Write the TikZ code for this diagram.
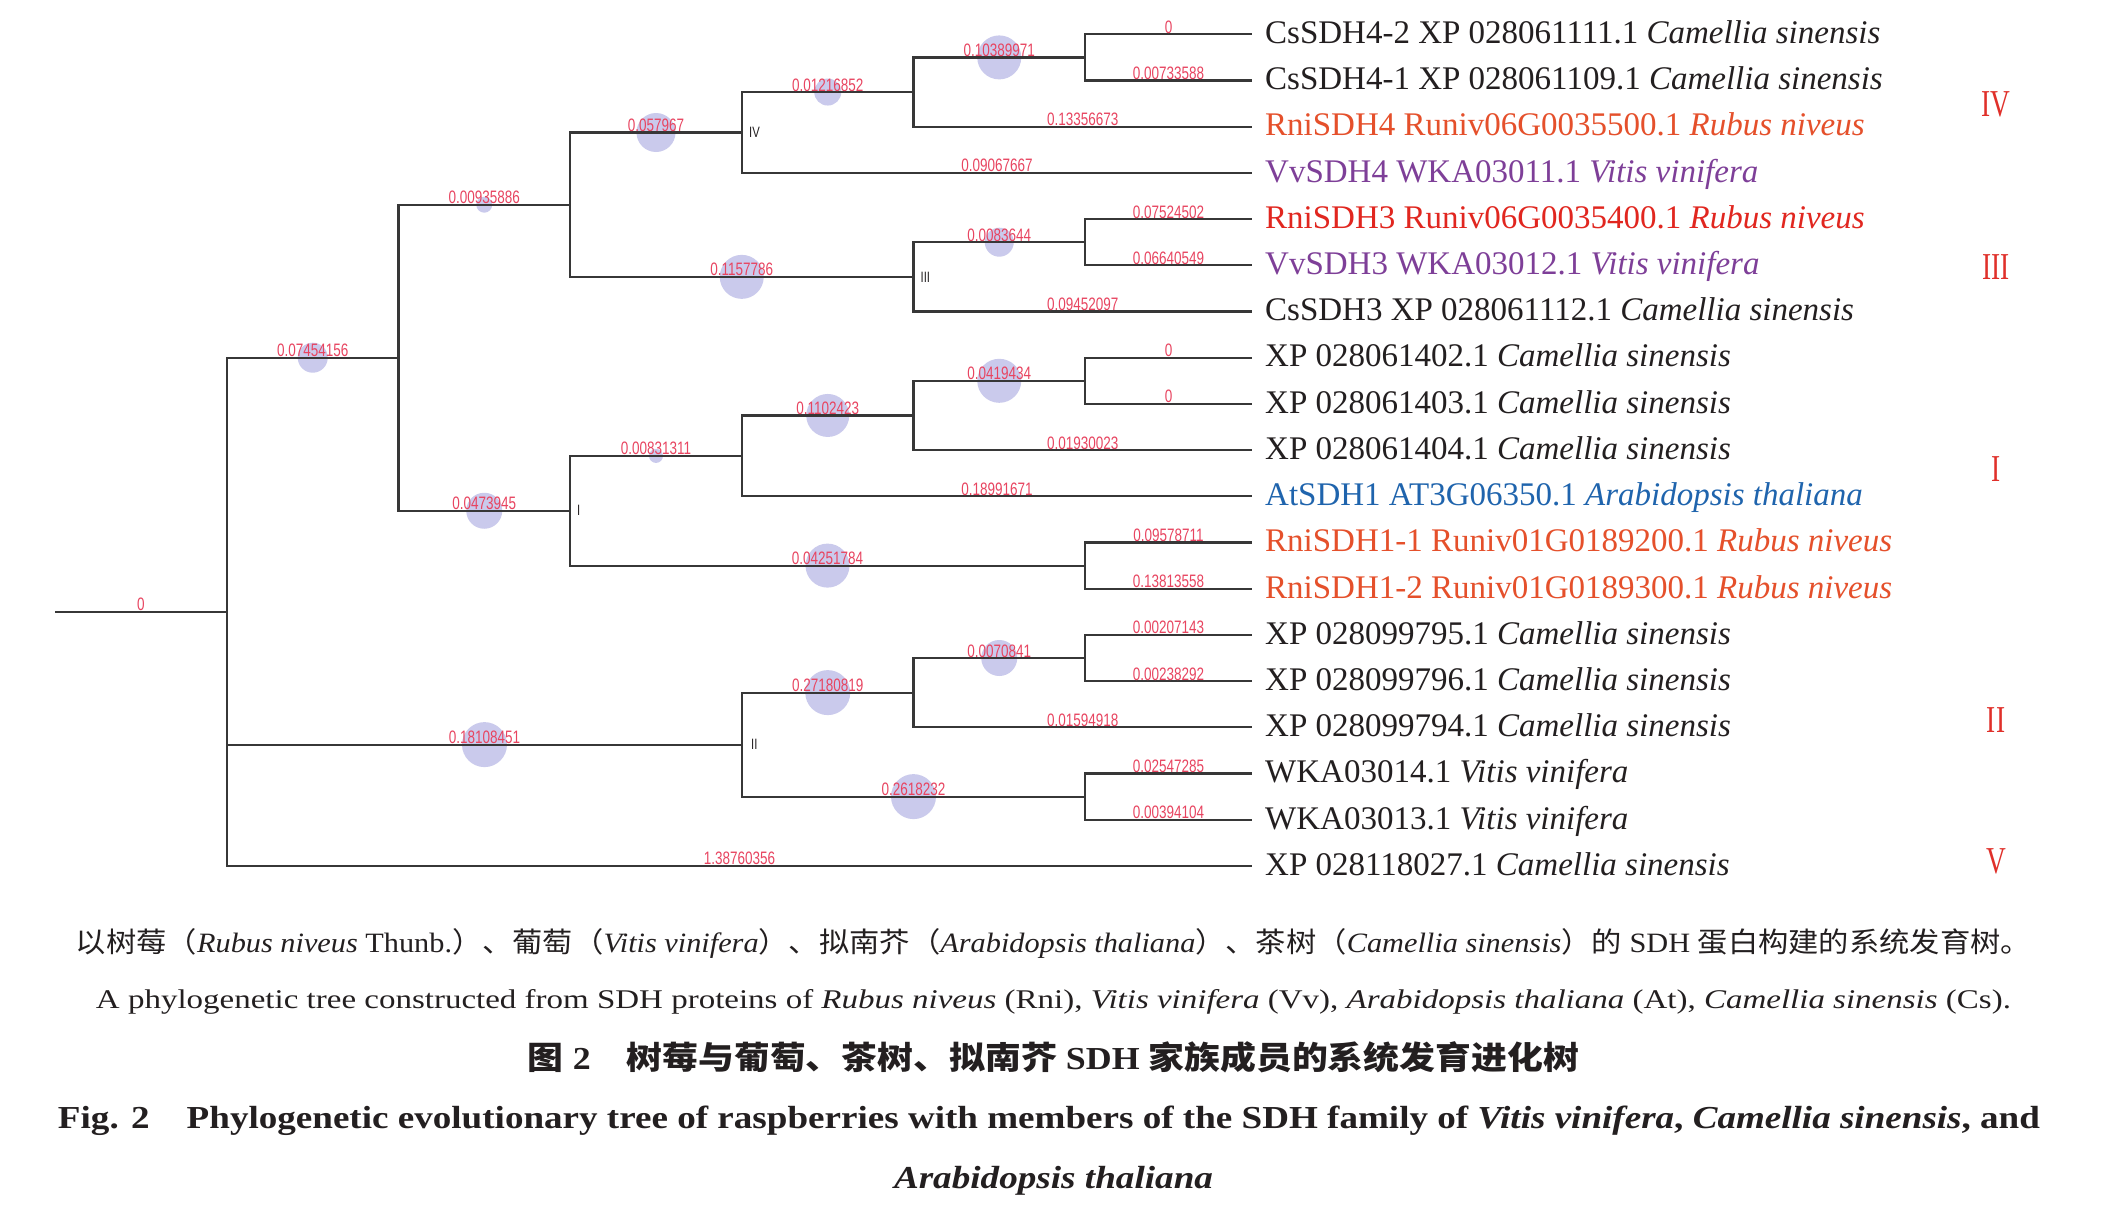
\documentclass[tikz,border=0pt]{standalone}
\usepackage{fontspec}
\usepackage{graphicx}
\setmainfont{Liberation Serif}
\newfontfamily\cjk{Noto Sans CJK SC}
\newfontfamily\lblfont[FakeStretch=0.75]{Liberation Sans}
\usetikzlibrary{calc}
\definecolor{linegray}{RGB}{55,55,55}
\definecolor{lblred}{RGB}{232,68,96}
\definecolor{circfill}{RGB}{202,202,236}
\definecolor{rnorange}{RGB}{229,80,43}
\definecolor{rnred}{RGB}{225,38,31}
\definecolor{vvpurple}{RGB}{126,63,152}
\definecolor{atblue}{RGB}{31,100,173}
\definecolor{numred}{RGB}{224,48,42}
\definecolor{txtblack}{RGB}{35,31,32}
\tikzset{
  br/.style={draw=linegray,line width=2.2pt},
  circ/.style={fill=circfill},
  bl/.style={font=\lblfont\fontsize{18}{18}\selectfont,text=lblred,inner sep=0pt,anchor=base},
  clade/.style={font=\lblfont\fontsize{15}{15}\selectfont,text=txtblack,inner sep=0pt,anchor=west},
  leaf/.style={font=\fontsize{33}{40}\selectfont,inner sep=0pt,anchor=mid west},
  numer/.style={font=\fontsize{38}{40}\selectfont,text=numred,inner sep=0pt},
  captext/.style={inner sep=0pt,anchor=mid,text=txtblack}
}
\begin{document}
\begin{tikzpicture}[x=1pt,y=-1pt]
\useasboundingbox[fill=white] (0,0) rectangle (2107,1226);
% leaves
\foreach \i in {0,...,18} \coordinate (l\i) at (1252,34.3+46.2*\i);
% internal nodes
\coordinate (nA) at (1085,57.4);
\coordinate (nB) at (913.5,92.05);
\coordinate (nIV) at (742,132.5);
\coordinate (nC) at (1085,242.2);
\coordinate (nIII) at (913.5,276.85);
\coordinate (nD) at (570,204.7);
\coordinate (nE) at (1085,380.8);
\coordinate (nF) at (913.5,415.45);
\coordinate (nG) at (742,455.9);
\coordinate (nH) at (1085,565.6);
\coordinate (nI) at (570,510.75);
\coordinate (nJ) at (398.5,357.7);
\coordinate (nK) at (1085,658);
\coordinate (nL) at (913.5,692.6);
\coordinate (nM) at (1085,796.6);
\coordinate (nII) at (742,744.6);
\coordinate (nR) at (227,611.8);
\coordinate (nS) at (55,611.8);
% circles
\foreach \p/\c/\d in {nR/nJ/30,nR/nII/45,nJ/nD/16,nJ/nI/36,nD/nIV/39,nD/nIII/44,nIV/nB/27,nB/nA/44,
  nIII/nC/29,nI/nG/14,nI/nH/44,nG/nF/43,nF/nE/44,nII/nL/45,nII/nM/45,nL/nK/36}
  \fill[circ] ($(\p|-\c)!0.5!(\c)$) circle [radius={\d*0.5pt}];
% branches
\draw[br] (nS) -- (nR);
\foreach \p/\c in {nR/nJ,nR/nII,nR/l18,nJ/nD,nJ/nI,nD/nIV,nD/nIII,nIV/nB,nIV/l3,nB/nA,nB/l2,nA/l0,nA/l1,
  nIII/nC,nIII/l6,nC/l4,nC/l5,nI/nG,nI/nH,nG/nF,nG/l10,nF/nE,nF/l9,nE/l7,nE/l8,nH/l11,nH/l12,
  nII/nL,nII/nM,nL/nK,nL/l15,nK/l13,nK/l14,nM/l16,nM/l17}
  \draw[br] (\p) |- (\c);
% branch length labels
\node[bl] at ([yshift=1pt]$(nS)!0.5!(nR)$) {0};
\foreach \p/\c/\t in {nR/nJ/0.07454156,nR/nII/0.18108451,nR/l18/1.38760356,nJ/nD/0.00935886,nJ/nI/0.0473945,
  nD/nIV/0.057967,nD/nIII/0.1157786,nIV/nB/0.01216852,nIV/l3/0.09067667,nB/nA/0.10389971,nB/l2/0.13356673,
  nA/l0/0,nA/l1/0.00733588,nIII/nC/0.0083644,nIII/l6/0.09452097,nC/l4/0.07524502,nC/l5/0.06640549,
  nI/nG/0.00831311,nI/nH/0.04251784,nG/nF/0.1102423,nG/l10/0.18991671,nF/nE/0.0419434,nF/l9/0.01930023,
  nE/l7/0,nE/l8/0,nH/l11/0.09578711,nH/l12/0.13813558,nII/nL/0.27180819,nII/nM/0.2618232,nL/nK/0.0070841,
  nL/l15/0.01594918,nK/l13/0.00207143,nK/l14/0.00238292,nM/l16/0.02547285,nM/l17/0.00394104}
  \node[bl] at ([yshift=1pt]$(\p|-\c)!0.5!(\c)$) {\t};
% clade labels at nodes
\node[clade] (cIV) at ([xshift=7pt]nIV) {IV};
\node[clade] (cIII) at ([xshift=7pt]nIII) {III};
\node[clade] (cI) at ([xshift=7pt]nI) {I};
\node[clade] (cII) at ([xshift=9pt]nII) {II};
% leaf names
\tikzset{lt/.style={leaf,text=#1}}
\node[lt=txtblack] (t0) at ([xshift=13pt,yshift=-7pt]l0) {CsSDH4-2 XP 028061111.1 \textit{Camellia sinensis}};
\node[lt=txtblack] (t1) at ([xshift=13pt,yshift=-7pt]l1) {CsSDH4-1 XP 028061109.1 \textit{Camellia sinensis}};
\node[lt=rnorange] (t2) at ([xshift=13pt,yshift=-7pt]l2) {RniSDH4 Runiv06G0035500.1 \textit{Rubus niveus}};
\node[lt=vvpurple] (t3) at ([xshift=13pt,yshift=-7pt]l3) {VvSDH4 WKA03011.1 \textit{Vitis vinifera}};
\node[lt=rnred] (t4) at ([xshift=13pt,yshift=-7pt]l4) {RniSDH3 Runiv06G0035400.1 \textit{Rubus niveus}};
\node[lt=vvpurple] (t5) at ([xshift=13pt,yshift=-7pt]l5) {VvSDH3 WKA03012.1 \textit{Vitis vinifera}};
\node[lt=txtblack] (t6) at ([xshift=13pt,yshift=-7pt]l6) {CsSDH3 XP 028061112.1 \textit{Camellia sinensis}};
\node[lt=txtblack] (t7) at ([xshift=13pt,yshift=-7pt]l7) {XP 028061402.1 \textit{Camellia sinensis}};
\node[lt=txtblack] (t8) at ([xshift=13pt,yshift=-7pt]l8) {XP 028061403.1 \textit{Camellia sinensis}};
\node[lt=txtblack] (t9) at ([xshift=13pt,yshift=-7pt]l9) {XP 028061404.1 \textit{Camellia sinensis}};
\node[lt=atblue] (t10) at ([xshift=13pt,yshift=-7pt]l10) {AtSDH1 AT3G06350.1 \textit{Arabidopsis thaliana}};
\node[lt=rnorange] (t11) at ([xshift=13pt,yshift=-7pt]l11) {RniSDH1-1 Runiv01G0189200.1 \textit{Rubus niveus}};
\node[lt=rnorange] (t12) at ([xshift=13pt,yshift=-7pt]l12) {RniSDH1-2 Runiv01G0189300.1 \textit{Rubus niveus}};
\node[lt=txtblack] (t13) at ([xshift=13pt,yshift=-7pt]l13) {XP 028099795.1 \textit{Camellia sinensis}};
\node[lt=txtblack] (t14) at ([xshift=13pt,yshift=-7pt]l14) {XP 028099796.1 \textit{Camellia sinensis}};
\node[lt=txtblack] (t15) at ([xshift=13pt,yshift=-7pt]l15) {XP 028099794.1 \textit{Camellia sinensis}};
\node[lt=txtblack] (t16) at ([xshift=13pt,yshift=-7pt]l16) {WKA03014.1 \textit{Vitis vinifera}};
\node[lt=txtblack] (t17) at ([xshift=13pt,yshift=-7pt]l17) {WKA03013.1 \textit{Vitis vinifera}};
\node[lt=txtblack] (t18) at ([xshift=13pt,yshift=-7pt]l18) {XP 028118027.1 \textit{Camellia sinensis}};
% group numerals
\node[numer] (gIV) at (1996,104) {\scalebox{0.72}[1]{IV}};
\node[numer] (gIII) at (1996,266.7) {\scalebox{0.72}[1]{III}};
\node[numer] (gI) at (1996,469) {\scalebox{0.72}[1]{I}};
\node[numer] (gII) at (1996,720) {\scalebox{0.72}[1]{II}};
\node[numer] (gV) at (1996,861.5) {\scalebox{0.72}[1]{V}};
% captions
\node[captext] (cap1) at (1053.5,950) {\resizebox{1955pt}{\height}{\fontsize{28}{34}\selectfont{\cjk 以树莓（}\textit{Rubus niveus} Thunb.{\cjk ）、葡萄（}\textit{Vitis vinifera}{\cjk ）、拟南芥（}\textit{Arabidopsis thaliana}{\cjk ）、茶树（}\textit{Camellia sinensis}{\cjk ）的} SDH {\cjk 蛋白构建的系统发育树。}}};
\node[captext] (cap2) at (1053.5,1006) {\resizebox{1915pt}{\height}{\fontsize{27}{34}\selectfont A phylogenetic tree constructed from SDH proteins of \textit{Rubus niveus} (Rni), \textit{Vitis vinifera} (Vv), \textit{Arabidopsis thaliana} (At), \textit{Camellia sinensis} (Cs).}};
\node[captext] (cap3) at (1053.5,1067) {\resizebox{1051pt}{\height}{\fontsize{32}{38}\selectfont{\cjk\bfseries 图} \textbf{2}\hspace{1em}{\cjk\bfseries 树莓与葡萄、茶树、拟南芥} \textbf{SDH} {\cjk\bfseries 家族成员的系统发育进化树}}};
\node[captext] (cap4) at (1049,1126) {\resizebox{1982pt}{\height}{\fontsize{32}{38}\selectfont\bfseries Fig. 2\hspace{1em}Phylogenetic evolutionary tree of raspberries with members of the SDH family of \textit{Vitis vinifera}, \textit{Camellia sinensis}, and}};
\node[captext] (cap5) at (1053.5,1186) {\resizebox{319pt}{\height}{\fontsize{32}{38}\selectfont\bfseries\itshape Arabidopsis thaliana}};
\end{tikzpicture}
\end{document}
